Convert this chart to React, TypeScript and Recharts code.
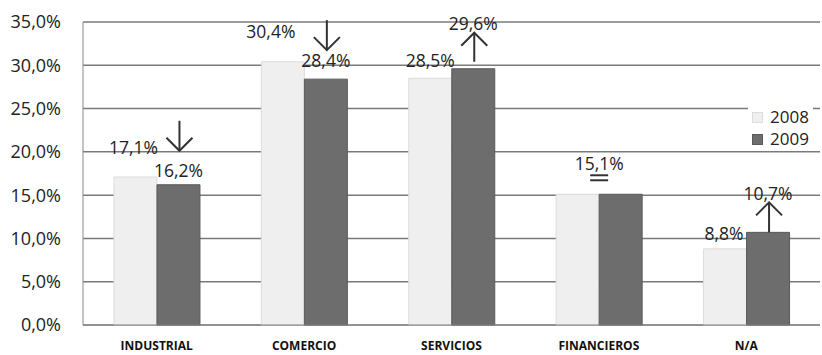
import React from 'react'
import { BarChart, Bar, XAxis, YAxis, CartesianGrid, LabelList } from 'recharts'

const categories = ['INDUSTRIAL', 'COMERCIO', 'SERVICIOS', 'FINANCIEROS', 'N/A']
const values2008 = [17.1, 30.4, 28.5, 15.1, 8.8]
const values2009 = [16.2, 28.4, 29.6, 15.1, 10.7]
const trends = ['down', 'down', 'up', 'equal', 'up']
const yTicks = [0, 5, 10, 15, 20, 25, 30, 35]
const seriesNames = ['2008', '2009']

// label placement, relative to the bar top (px)
const lbl2008Dx = [-2, -12, 0, 0, -1]
const lbl2008Dy = [-30, -31, -18, 0, -16]
const lbl2009Dy = [-15, -19, -46, -31, -39]
const arrowFrom = [-64, -59, -7, 0, 0]
const arrowTo = [-34, -29, -36, 0, -30]

const data = categories.map((c, i) => ({ name: c, '2008': values2008[i], '2009': values2009[i] }))

const FONT = '"Open Sans", sans-serif'
const COLORS = [['#efefef', '#dcdcdc'], ['#6d6d6d', '#5a5a5a']]
const fmt = (v: number) => v.toFixed(1).replace('.', ',') + '%'

const Label2008 = (p: any) => {
  const i = p.index
  if (trends[i] === 'equal') return null
  const cx = p.x + p.width / 2 + lbl2008Dx[i]
  return (
    <text x={cx} y={p.y + lbl2008Dy[i]} textAnchor="middle" dominantBaseline="central" fontSize={17.5} fill="#222" fontFamily={FONT}>
      {fmt(values2008[i])}
    </text>
  )
}

const Label2009 = (p: any) => {
  const i = p.index
  const t = trends[i]
  const cx = p.x + p.width / 2
  if (t === 'equal') {
    const lx = p.x
    return (
      <g>
        <text x={lx} y={p.y + lbl2009Dy[i]} textAnchor="middle" dominantBaseline="central" fontSize={17.5} fill="#222" fontFamily={FONT}>
          {fmt(values2009[i])}
        </text>
        <line x1={lx - 9} x2={lx + 9} y1={p.y - 19} y2={p.y - 19} stroke="#333" strokeWidth={2} />
        <line x1={lx - 9} x2={lx + 9} y1={p.y - 14} y2={p.y - 14} stroke="#333" strokeWidth={2} />
      </g>
    )
  }
  const y1 = p.y + arrowFrom[i]
  const y2 = p.y + arrowTo[i]
  const dir = y2 > y1 ? -1 : 1
  const ax = cx + 1
  return (
    <g>
      <text x={cx} y={p.y + lbl2009Dy[i]} textAnchor="middle" dominantBaseline="central" fontSize={17.5} fill="#222" fontFamily={FONT}>
        {fmt(values2009[i])}
      </text>
      <line x1={ax} x2={ax} y1={y1} y2={y2} stroke="#333" strokeWidth={2} />
      <polyline points={`${ax - 13},${y2 + dir * 13} ${ax},${y2} ${ax + 13},${y2 + dir * 13}`} fill="none" stroke="#333" strokeWidth={2} />
    </g>
  )
}

export default function App() {
  return (
    <div style={{ position: 'absolute', left: 0, top: 0, width: 822, height: 355, background: '#fff' }}>
      <BarChart width={822} height={355} data={data} barCategoryGap="21%" barGap={0}
        margin={{ top: 22, right: 2, left: 0, bottom: 0 }}>
        <CartesianGrid vertical={false} stroke="#7a7a7a" strokeWidth={1.5} />
        <XAxis dataKey="name" height={30} axisLine={{ stroke: '#888' }} tickLine={false}
          tick={{ fontSize: 12, fontWeight: 700, fill: '#111', fontFamily: FONT }} dy={8} />
        <YAxis width={83} domain={[0, 35]} ticks={yTicks} tickFormatter={fmt} axisLine={{ stroke: '#888' }}
          tickLine={false} tick={{ fontSize: 18, fill: '#222', fontFamily: FONT }} dx={-14} />
        <Bar dataKey="2008" fill={COLORS[0][0]} stroke={COLORS[0][1]} isAnimationActive={false}>
          <LabelList dataKey="2008" content={Label2008} />
        </Bar>
        <Bar dataKey="2009" fill={COLORS[1][0]} stroke={COLORS[1][1]} isAnimationActive={false}>
          <LabelList dataKey="2009" content={Label2009} />
        </Bar>
      </BarChart>
      <div style={{ position: 'absolute', left: 748, top: 106, background: '#fff', padding: '0 4px',
        fontFamily: FONT, fontSize: 17, color: '#222', lineHeight: '22px' }}>
        {seriesNames.map((n, i) => (
          <div key={n} style={{ display: 'flex', alignItems: 'center' }}>
            <span style={{ width: 9, height: 9, background: COLORS[i][0], border: `1px solid ${COLORS[i][1]}`, marginRight: 7 }} />
            {n}
          </div>
        ))}
      </div>
    </div>
  )
}
